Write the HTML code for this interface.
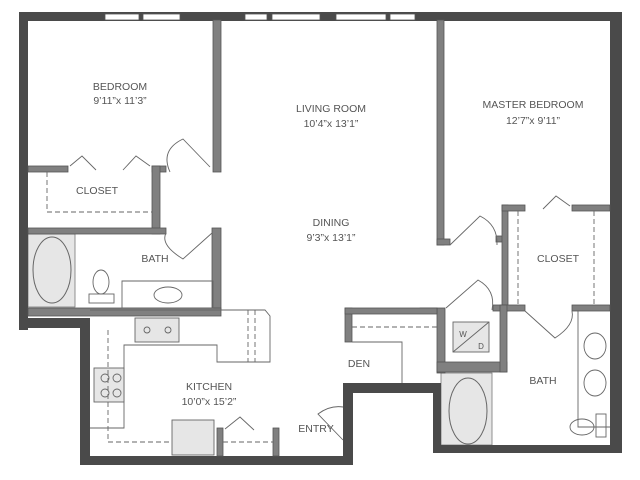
<!DOCTYPE html>
<html><head><style>
html,body{margin:0;padding:0;background:#fff;}
svg{display:block;}
text{font-family:"Liberation Sans",sans-serif;font-size:10.5px;fill:#555;text-anchor:middle;}
</style></head><body>
<svg width="640" height="480" viewBox="0 0 640 480" xmlns="http://www.w3.org/2000/svg">
<rect width="640" height="480" fill="#fff"/>
<rect x="28" y="234" width="47" height="73" fill="#e6e6e6" stroke="#777" stroke-width="0.8"/>
<ellipse cx="52" cy="270" rx="19" ry="33" fill="none" stroke="#666"/>
<rect x="441" y="373" width="51" height="72" fill="#e6e6e6" stroke="#777" stroke-width="0.8"/>
<ellipse cx="468" cy="411" rx="19" ry="33" fill="#e6e6e6" stroke="#666"/>
<g fill="#4a4a4a">
<rect x="19" y="12" width="603" height="9"/>
<rect x="19" y="12" width="9" height="318"/>
<rect x="19" y="318" width="71" height="10"/>
<rect x="80" y="318" width="10" height="147"/>
<rect x="80" y="456" width="273" height="9"/>
<rect x="343" y="383" width="10" height="82"/>
<rect x="343" y="383" width="97" height="10"/>
<rect x="433" y="383" width="8" height="70"/>
<rect x="433" y="445" width="189" height="8"/>
<rect x="610" y="12" width="12" height="441"/>
</g>
<g fill="#fff" stroke="#555" stroke-width="0.8">
<rect x="105" y="14" width="34" height="6"/><rect x="143" y="14" width="37" height="6"/>
<rect x="245" y="14" width="22" height="6"/><rect x="272" y="14" width="48" height="6"/>
<rect x="336" y="14" width="50" height="6"/><rect x="390" y="14" width="25" height="6"/>
</g>
<g fill="#808080" stroke="#555" stroke-width="0.8">
<rect x="213" y="20" width="8" height="152"/>
<rect x="28" y="166" width="40" height="6"/>
<rect x="152" y="166" width="14" height="6"/>
<rect x="152" y="166" width="8" height="68"/>
<rect x="28" y="228" width="138" height="6"/>
<rect x="212" y="228" width="9" height="82"/>
<rect x="28" y="308" width="193" height="8"/>
<rect x="437" y="20" width="7" height="225"/>
<rect x="437" y="239" width="13" height="6"/>
<rect x="496" y="236" width="8" height="6"/>
<rect x="502" y="205" width="6" height="106"/>
<rect x="502" y="205" width="23" height="6"/>
<rect x="572" y="205" width="38" height="6"/>
<rect x="493" y="305" width="32" height="6"/>
<rect x="572" y="305" width="38" height="6"/>
<rect x="437" y="308" width="8" height="65"/>
<rect x="420" y="308" width="17" height="5"/>
<rect x="437" y="362" width="70" height="10"/>
<rect x="500" y="305" width="7" height="67"/>
<rect x="345" y="308" width="7" height="34"/>
<rect x="345" y="308" width="92" height="6"/>
<rect x="217" y="428" width="6" height="28"/>
<rect x="273" y="428" width="6" height="28"/>
</g>
<g fill="none" stroke="#666" stroke-width="0.9">
<polyline points="352,342 402,342 402,383"/>
<polyline points="90,310 265,310 270,316 270,362 217,362 217,345 124,345 124,428 90,428"/>
<path d="M122,281 L213,281 L213,308 L122,308 Z"/>
<path d="M578,311 L578,427 L610,427"/>
<rect x="172" y="420" width="42" height="35" fill="#e6e6e6"/>
<rect x="94" y="368" width="30" height="34" fill="#e6e6e6"/>
<rect x="135" y="318" width="44" height="24" fill="#e6e6e6"/>
<rect x="453" y="322" width="36" height="30" fill="#e6e6e6"/>
<line x1="453" y1="352" x2="489" y2="322"/>
<ellipse cx="168" cy="295" rx="14" ry="8"/>
<ellipse cx="101" cy="282" rx="8" ry="12"/>
<rect x="89" y="294" width="25" height="9"/>
<ellipse cx="595" cy="346" rx="11" ry="13"/>
<ellipse cx="595" cy="383" rx="11" ry="13"/>
<ellipse cx="582" cy="427" rx="12" ry="8"/>
<rect x="596" y="414" width="10" height="23"/>
<circle cx="105" cy="378" r="4"/><circle cx="117" cy="378" r="4"/>
<circle cx="105" cy="393" r="4"/><circle cx="117" cy="393" r="4"/>
<circle cx="147" cy="330" r="3"/><circle cx="168" cy="330" r="3"/>
<path d="M210,167 L183,139 Q160,150 170,172"/>
<path d="M212,233 L183,259 Q160,245 166,233"/>
<path d="M450,245 L480,216 Q498,225 497,245"/>
<path d="M446,308 L478,280 Q496,290 492,310"/>
<path d="M525,311 L555,338 Q575,325 572,311"/>
<path d="M343,440 L318,414 Q330,405 343,407"/>
<polyline points="70,166 82,156 96,170"/><polyline points="123,170 136,156 150,166"/>
<polyline points="543,209 556,196 570,206"/>
<polyline points="225,429 240,417 254,430"/>
</g>
<g fill="none" stroke="#666" stroke-width="0.9" stroke-dasharray="5,3">
<polyline points="47,172 47,212 152,212"/>
<polyline points="108,330 108,442 172,442"/><line x1="223" y1="442" x2="273" y2="442"/>
<line x1="248" y1="310" x2="248" y2="362"/><line x1="255" y1="310" x2="255" y2="362"/>
<line x1="352" y1="327" x2="437" y2="327"/>
<line x1="518" y1="211" x2="518" y2="305"/><line x1="594" y1="211" x2="594" y2="305"/>
</g>
<text x="120" y="90">BEDROOM</text>
<text x="120" y="104">9’11”x 11’3”</text>
<text x="97" y="194">CLOSET</text>
<text x="155" y="262">BATH</text>
<text x="331" y="112">LIVING ROOM</text>
<text x="331" y="127">10’4”x 13’1”</text>
<text x="331" y="226">DINING</text>
<text x="331" y="241">9’3”x 13’1”</text>
<text x="533" y="108">MASTER BEDROOM</text>
<text x="533" y="124">12’7”x 9’11”</text>
<text x="558" y="262">CLOSET</text>
<text x="543" y="384">BATH</text>
<text x="359" y="367">DEN</text>
<text x="209" y="390">KITCHEN</text>
<text x="209" y="405">10’0”x 15’2”</text>
<text x="316" y="432">ENTRY</text>
<text x="463" y="337" style="font-size:8px">W</text>
<text x="481" y="349" style="font-size:8px">D</text>
</svg>
</body></html>
